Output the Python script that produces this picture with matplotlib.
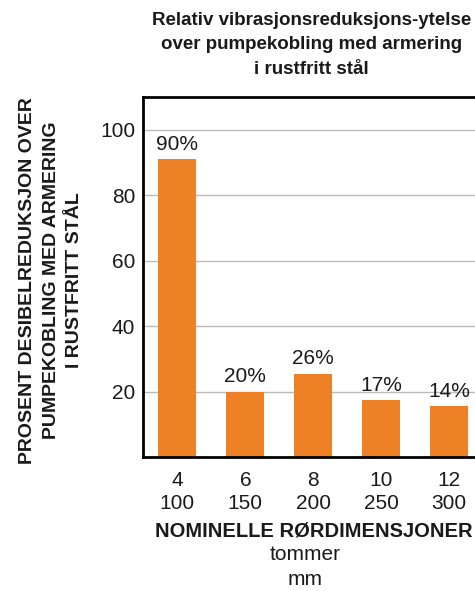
import matplotlib
matplotlib.use('Agg')
import matplotlib.pyplot as plt
import numpy as np

plt.rcParams['font.family'] = ['Liberation Sans', 'DejaVu Sans']

# data
inches = ['4', '6', '8', '10', '12']
millimetres = ['100', '150', '200', '250', '300']
bar_heights = [91, 20, 25.5, 17.5, 15.5]
bar_labels = ['90%', '20%', '26%', '17%', '14%']
y_ticks = [20, 40, 60, 80, 100]

title = 'Relativ vibrasjonsreduksjons-ytelse\nover pumpekobling med armering\ni rustfritt stål'
y_label = 'PROSENT DESIBELREDUKSJON OVER\nPUMPEKOBLING MED ARMERING\nI RUSTFRITT STÅL'
x_label = 'NOMINELLE RØRDIMENSJONER'

orange = '#ee8026'
ink = '#1a1a1a'

fig = plt.figure(figsize=(4.75, 5.91), dpi=100)
ax = fig.add_axes([0.302, 0.2267, 0.715, 0.609])

x = np.arange(len(inches))
ax.bar(x, bar_heights, width=0.56, color=orange, zorder=2)
for xi, h, lab in zip(x, bar_heights, bar_labels):
    ax.text(xi, h + 1.6, lab, ha='center', va='bottom', fontsize=15, color=ink)

ax.set_xlim(-0.5, 4.5)
ax.set_ylim(0, 110)
ax.set_yticks(y_ticks)
ax.set_xticks(x)
ax.set_xticklabels([f'{a}\n{b}' for a, b in zip(inches, millimetres)], linespacing=1.3)
ax.tick_params(axis='both', length=0, labelsize=15, labelcolor=ink)
ax.tick_params(axis='y', pad=6)
ax.tick_params(axis='x', pad=10)
ax.yaxis.grid(True, color='#bbbbbb', linewidth=1, zorder=0)
ax.set_axisbelow(True)

for side in ['left', 'top', 'bottom', 'right']:
    ax.spines[side].set_linewidth(2)
    ax.spines[side].set_color('black')

fig.text(0.655, 0.924, title, ha='center', va='center', fontsize=13.5, fontweight='bold',
         linespacing=1.55, color=ink)
fig.text(0.108, 0.526, y_label, ha='center', va='center', rotation=90, fontsize=14,
         fontweight='bold', linespacing=1.5, color=ink)
fig.text(0.66, 0.101, x_label, ha='center', va='center', fontsize=14.5, fontweight='bold',
         color=ink)
fig.text(0.643, 0.061, 'tommer', ha='center', va='center', fontsize=15, color=ink)
fig.text(0.643, 0.004, 'mm', ha='center', va='bottom', fontsize=15, color=ink)

fig.savefig('out.png', dpi=100)
